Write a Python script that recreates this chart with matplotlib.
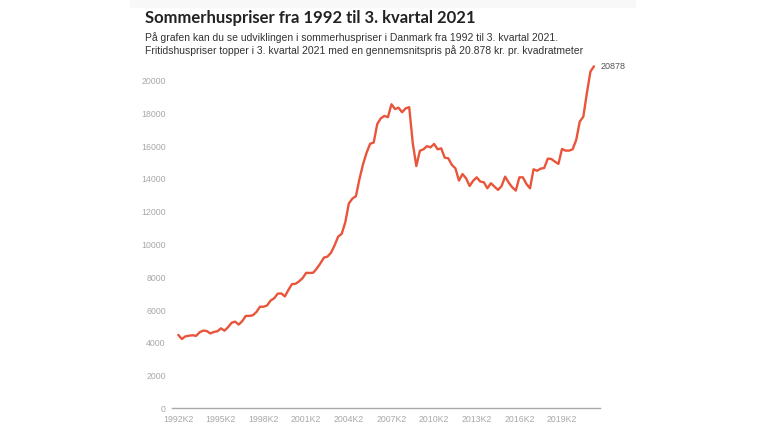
import matplotlib
matplotlib.use("Agg")
import matplotlib.pyplot as plt
from matplotlib.patches import Rectangle

# Quarterly average price (kr. per m2), 1992K2 .. 2021K3
start_year, start_q = 1992, 2
prices = [
    4480, 4230, 4390, 4430, 4460, 4420, 4640, 4740, 4720, 4570,
    4660, 4700, 4880, 4740, 4950, 5220, 5290, 5110, 5320, 5640,
    5640, 5680, 5880, 6200, 6200, 6280, 6580, 6720, 7000, 7010,
    6830, 7230, 7580, 7600, 7750, 7950, 8270, 8260, 8280, 8540,
    8850, 9200, 9260, 9500, 9950, 10480, 10650, 11350, 12500, 12800,
    12950, 14000, 14900, 15600, 16150, 16220, 17350, 17700, 17850, 17770,
    18560, 18270, 18350, 18070, 18310, 18380, 16180, 14790, 15720, 15810,
    16000, 15930, 16140, 15810, 15870, 15300, 15260, 14860, 14650, 13900,
    14300, 14040, 13570, 13890, 14100, 13840, 13800, 13430, 13740, 13530,
    13330, 13570, 14140, 13780, 13490, 13290, 14100, 14100, 13690, 13430,
    14590, 14500, 14630, 14670, 15240, 15220, 15060, 14920, 15830, 15730,
    15730, 15810, 16380, 17500, 17800, 19230, 20550, 20878,
]

quarters = []
y, q = start_year, start_q
for _ in prices:
    quarters.append(f"{y}K{q}")
    q += 1
    if q > 4:
        q = 1
        y += 1

tick_labels = ["1992K2", "1995K2", "1998K2", "2001K2", "2004K2",
               "2007K2", "2010K2", "2013K2", "2016K2", "2019K2"]
y_ticks = [0, 2000, 4000, 6000, 8000, 10000, 12000, 14000, 16000, 18000, 20000]

title = "Sommerhuspriser fra 1992 til 3. kvartal 2021"
subtitle = ("På grafen kan du se udviklingen i sommerhuspriser i Danmark fra 1992 til 3. kvartal 2021.\n"
            "Fritidshuspriser topper i 3. kvartal 2021 med en gennemsnitspris på 20.878 kr. pr. kvadratmeter")

W, H = 768, 432
fig = plt.figure(figsize=(W / 100, H / 100), dpi=100)
fig.patch.set_facecolor("white")

# faint strip at top
fig.patches.append(Rectangle((130 / W, 1 - 7 / H), 505 / W, 7 / H,
                             transform=fig.transFigure, color="#f8f8f8", zorder=0))

ax_left, ax_right = 172, 600
ax_bottom, ax_top = 408.3, 56.1
ax = fig.add_axes([ax_left / W, 1 - ax_bottom / H, (ax_right - ax_left) / W, (ax_bottom - ax_top) / H])

x = list(range(len(prices)))
ax.plot(x, prices, color="#e9553b", lw=1.7, solid_joinstyle="round", solid_capstyle="round")

ax.set_ylim(0, 21500)
ax.set_xlim(-1.77, len(prices) - 1 + 1.7)

for s in ["top", "right", "left"]:
    ax.spines[s].set_visible(False)
ax.spines["bottom"].set_color("#aaaaaa")
ax.spines["bottom"].set_linewidth(1.0)

ax.set_yticks(y_ticks)
ax.set_yticklabels([str(v) for v in y_ticks])
ax.set_xticks([quarters.index(t) for t in tick_labels])
ax.set_xticklabels(tick_labels)
ax.tick_params(axis="both", length=0, labelsize=6.3, labelcolor="#a8a8a8")
ax.tick_params(axis="y", pad=4.5)
ax.tick_params(axis="x", pad=4.5)
for lab in ax.get_xticklabels() + ax.get_yticklabels():
    lab.set_fontfamily("Liberation Sans")

ax.annotate(str(prices[-1]), xy=(x[-1], prices[-1]), xytext=(5, 0), textcoords="offset points",
            ha="left", va="center", fontsize=6.5, color="#555555", family="Liberation Sans")

fig.text(145 / W, 1 - 17.5 / H, title, fontsize=12, fontweight="bold", color="#222222",
         family="Lato", ha="left", va="center")
fig.text(145 / W, 1 - 32.5 / H, subtitle, fontsize=7.5, color="#333333", family="Liberation Sans",
         ha="left", va="top", linespacing=1.25)

fig.savefig("out.png", dpi=100)
